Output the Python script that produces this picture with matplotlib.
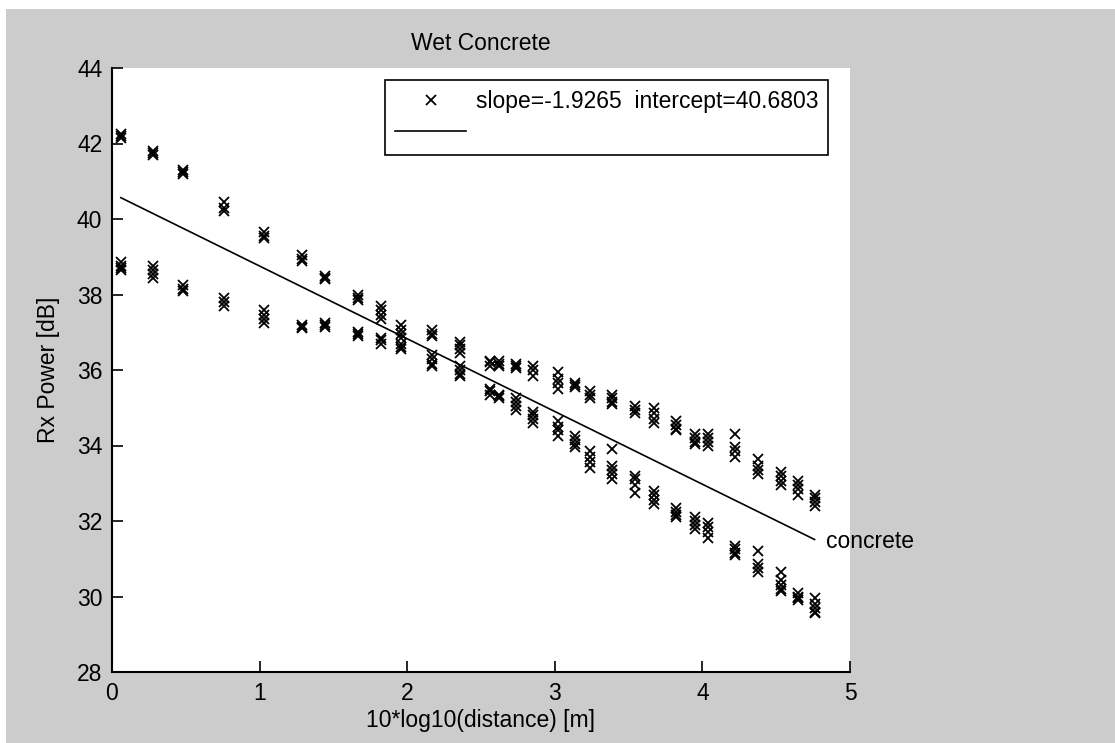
import numpy as np
import matplotlib
matplotlib.use("Agg")
import matplotlib.pyplot as plt
from matplotlib.patches import Rectangle

plt.rcParams['font.family'] = ['Liberation Sans', 'DejaVu Sans']

# measurement positions, 10*log10(distance)
dist = [0.06, 0.28, 0.48, 0.76, 1.03, 1.29, 1.44, 1.67, 1.82, 1.96,
        2.17, 2.36, 2.56, 2.62, 2.74, 2.85, 3.02, 3.14, 3.24, 3.39,
        3.54, 3.67, 3.82, 3.95, 4.04, 4.22, 4.38, 4.53, 4.65, 4.76]

# received power readings, upper group (one list per position)
rx_upper = [
    [42.25, 42.2, 42.15], [41.8, 41.75, 41.7], [41.3, 41.25, 41.2],
    [40.45, 40.3, 40.2], [39.65, 39.55, 39.5], [39.05, 38.95, 38.9],
    [38.5, 38.45, 38.4], [38.0, 37.9, 37.85], [37.7, 37.6, 37.45, 37.35],
    [37.2, 37.05, 36.95], [37.05, 36.95, 36.9], [36.75, 36.65, 36.55, 36.45],
    [36.25, 36.2, 36.1], [36.25, 36.15, 36.1], [36.15, 36.1, 36.05],
    [36.1, 36.0, 35.85], [35.95, 35.75, 35.65, 35.5], [35.65, 35.6, 35.55],
    [35.45, 35.35, 35.25], [35.35, 35.25, 35.15, 35.1], [35.05, 34.95, 34.85],
    [35.0, 34.85, 34.7, 34.6], [34.65, 34.55, 34.45, 34.4], [34.3, 34.2, 34.1, 34.05],
    [34.3, 34.2, 34.1, 34.0], [34.3, 33.95, 33.85, 33.7], [33.65, 33.45, 33.35, 33.25],
    [33.3, 33.2, 33.05, 32.95], [33.05, 32.95, 32.85, 32.7], [32.7, 32.6, 32.5, 32.4],
]

# received power readings, lower group
rx_lower = [
    [38.85, 38.75, 38.7, 38.65], [38.75, 38.65, 38.55, 38.45], [38.25, 38.15, 38.1],
    [37.9, 37.8, 37.7], [37.6, 37.45, 37.35, 37.25], [37.2, 37.15, 37.1],
    [37.25, 37.2, 37.15], [37.0, 36.95, 36.9], [36.85, 36.8, 36.7],
    [36.85, 36.7, 36.6, 36.55], [36.4, 36.3, 36.15, 36.1], [36.1, 36.0, 35.9, 35.85],
    [35.5, 35.45, 35.35], [35.35, 35.3, 35.25], [35.25, 35.15, 35.05, 34.95],
    [34.9, 34.8, 34.7, 34.6], [34.65, 34.5, 34.4, 34.25], [34.25, 34.15, 34.05, 33.95],
    [33.85, 33.7, 33.55, 33.4], [33.9, 33.45, 33.35, 33.25, 33.1], [33.2, 33.1, 32.95, 32.75],
    [32.8, 32.7, 32.55, 32.45], [32.35, 32.25, 32.15, 32.1], [32.1, 32.0, 31.9, 31.8],
    [31.95, 31.85, 31.7, 31.55], [31.35, 31.25, 31.15, 31.1], [31.2, 30.85, 30.75, 30.65],
    [30.65, 30.45, 30.3, 30.2, 30.15], [30.1, 30.0, 29.95, 29.9], [29.95, 29.8, 29.7, 29.6, 29.55],
]

slope = -1.9265
intercept = 40.6803

xs = []
ys = []
for d, up, lo in zip(dist, rx_upper, rx_lower):
    for v in up + lo:
        xs.append(d)
        ys.append(v)

fs = 16.5

fig = plt.figure(figsize=(11.15, 7.43), dpi=100, facecolor='#cccccc')
# thin white strips on top / left like the screenshot
fig.patches.append(Rectangle((0, 0), 6/1115, 1, transform=fig.transFigure,
                             facecolor='white', edgecolor='none', zorder=-1))
fig.patches.append(Rectangle((0, 1-9/743), 1, 9/743, transform=fig.transFigure,
                             facecolor='white', edgecolor='none', zorder=-1))

ax = fig.add_axes([112/1115, 1-672/743, 738/1115, 604/743])
ax.set_facecolor('white')

ax.plot(xs, ys, 'x', color='black', markersize=6.5, markeredgewidth=1.3,
        label='slope=-1.9265  intercept=40.6803')
fit_x = np.array([dist[0], dist[-1]])
ax.plot(fit_x, slope*fit_x + intercept, '-', color='black', linewidth=1.2, label=' ')
ax.text(4.84, slope*dist[-1] + intercept - 0.05, 'concrete', fontsize=fs,
        ha='left', va='center', clip_on=False)

ax.set_xlim(0, 5)
ax.set_ylim(28, 44)
ax.set_xticks([0, 1, 2, 3, 4, 5])
ax.set_yticks(np.arange(28, 45, 2))
ax.spines['top'].set_visible(False)
ax.spines['right'].set_visible(False)
ax.spines['left'].set_linewidth(1.5)
ax.spines['bottom'].set_linewidth(1.5)
ax.tick_params(direction='in', length=8, width=1.2, labelsize=fs)
ax.tick_params(axis='x', pad=7)
ax.tick_params(axis='y', pad=7)

ax.set_title('Wet Concrete', fontsize=fs, pad=13)
ax.set_xlabel('10*log10(distance) [m]', fontsize=fs, labelpad=3)
ax.set_ylabel('Rx Power [dB]', fontsize=fs, labelpad=12)

leg = ax.legend(loc='upper left', bbox_to_anchor=(273/738, 1-12/604),
                fontsize=fs, frameon=True, fancybox=False, framealpha=1,
                edgecolor='black', handlelength=3.1, handletextpad=0.4,
                borderpad=0.45, labelspacing=0.35, borderaxespad=0)
leg.get_frame().set_linewidth(1.2)

plt.savefig('out.png', dpi=100, facecolor=fig.get_facecolor())
